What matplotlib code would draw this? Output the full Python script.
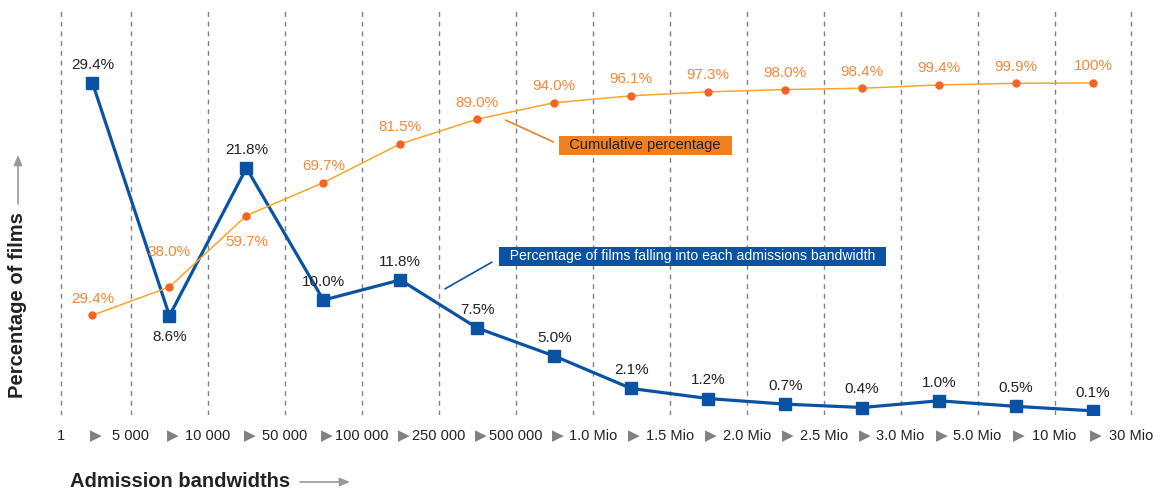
import numpy as np
import matplotlib.pyplot as plt
import matplotlib.transforms as mtransforms

# bandwidth boundaries (x tick labels) and values per bandwidth
bounds = ['1', '5 000', '10 000', '50 000', '100 000', '250 000', '500 000',
          '1.0 Mio', '1.5 Mio', '2.0 Mio', '2.5 Mio', '3.0 Mio', '5.0 Mio',
          '10 Mio', '30 Mio']
share = [29.4, 8.6, 21.8, 10.0, 11.8, 7.5, 5.0, 2.1, 1.2, 0.7, 0.4, 1.0, 0.5, 0.1]
cumul = [29.4, 38.0, 59.7, 69.7, 81.5, 89.0, 94.0, 96.1, 97.3, 98.0, 98.4, 99.4, 99.9, 100]
share_lbl = ['29.4%', '8.6%', '21.8%', '10.0%', '11.8%', '7.5%', '5.0%', '2.1%',
             '1.2%', '0.7%', '0.4%', '1.0%', '0.5%', '0.1%']
cumul_lbl = ['29.4%', '38.0%', '59.7%', '69.7%', '81.5%', '89.0%', '94.0%', '96.1%',
             '97.3%', '98.0%', '98.4%', '99.4%', '99.9%', '100%']

plt.rcParams['font.family'] = ['Liberation Sans', 'DejaVu Sans']

BLUE = '#0a52a3'
ORANGE_LINE = '#f7a626'
ORANGE_DOT = '#f26522'
ORANGE_TXT = '#f5883b'
GREY = '#808080'

fig = plt.figure(figsize=(11.6, 4.94), dpi=100)
ax = fig.add_axes([0, 79 / 494, 1, 407 / 494])
x = np.arange(len(share))

ax.set_xlim(-1.2019, 13.8706)
ax.set_ylim(-0.27, 36.1)
for s in ax.spines.values():
    s.set_visible(False)
ax.set_xticks([])
ax.set_yticks([])

# dashed separators between bandwidths
edges = np.arange(len(bounds)) - 0.5
edges[0] = -0.41
for e in edges:
    ax.axvline(e, color=GREY, lw=1, ls=(0, (3.5, 3.5)), zorder=0)

# tick labels at the separators and triangles between them
trans = mtransforms.blended_transform_factory(ax.transData, ax.transAxes)
for e, lab in zip(edges, bounds):
    ax.text(e, -21 / 407, lab, transform=trans, ha='center', va='center',
            fontsize=10.5, color='#222222')
for i in x:
    ax.text(i + 0.04, -21 / 407, '\u25b6', transform=trans, ha='center', va='center',
            fontsize=11, color=GREY, family=['DejaVu Sans'])

# share of films per bandwidth
ax.plot(x, share, color=BLUE, lw=2.3, marker='s', ms=8, zorder=4)
for i, (v, lab) in enumerate(zip(share, share_lbl)):
    dy = -15 if i == 1 else 13
    ax.annotate(lab, (i, v), xytext=(0, dy), textcoords='offset points',
                ha='center', va='center', fontsize=11, color='#222222', zorder=5)

# cumulative percentage on a second scale (0..100 matched to 0..29.4)
ax2 = ax.twinx()
ax2.set_ylim(-0.27 * 100 / 29.4, 36.1 * 100 / 29.4)
ax2.axis('off')
ax2.plot(x, cumul, color=ORANGE_LINE, lw=1.1, zorder=3)
ax2.plot(x, cumul, ls='none', marker='o', ms=5, color=ORANGE_DOT, zorder=3)
offs = {1: 25, 2: -19}
for i, (v, lab) in enumerate(zip(cumul, cumul_lbl)):
    ax2.annotate(lab, (i, v), xytext=(0, offs.get(i, 12)), textcoords='offset points',
                 ha='center', va='center', fontsize=11, color=ORANGE_TXT, zorder=5)

# callouts
ax2.annotate('  Cumulative percentage  ', xy=(5.37, 88.7), xytext=(6.09, 81.0),
             ha='left', va='center', fontsize=10.5, color='#222222',
             bbox=dict(boxstyle='square,pad=0.18', fc='#f07f22', ec='none'),
             arrowprops=dict(arrowstyle='-', color='#f07f22', lw=1.2,
                             relpos=(0, 0.5), shrinkA=4, shrinkB=0))
ax.annotate('  Percentage of films falling into each admissions bandwidth  ',
            xy=(4.58, 11.0), xytext=(5.32, 13.9),
            ha='left', va='center', fontsize=10.1, color='white',
            bbox=dict(boxstyle='square,pad=0.2', fc='#0b53a2', ec='none'),
            arrowprops=dict(arrowstyle='-', color=BLUE, lw=1.2,
                            relpos=(0, 0.5), shrinkA=6, shrinkB=0))

# axis titles with arrows
fig.text(70 / 1160, 1 - 481 / 494, 'Admission bandwidths', ha='left', va='center',
         fontsize=14.5, fontweight='bold', color='#222222')
fig.add_artist(plt.Annotation('', xy=(350 / 1160, 1 - 482 / 494),
                              xytext=(300 / 1160, 1 - 482 / 494),
                              xycoords='figure fraction',
                              arrowprops=dict(arrowstyle='-|>,head_length=0.6,head_width=0.25',
                                              color='#999999', lw=1.2, shrinkA=0, shrinkB=0)))
fig.text(18 / 1160, 1 - 305 / 494, 'Percentage of films', ha='center', va='center',
         rotation=90, fontsize=14.5, fontweight='bold', color='#222222')
fig.add_artist(plt.Annotation('', xy=(18 / 1160, 1 - 155 / 494),
                              xytext=(18 / 1160, 1 - 204 / 494),
                              xycoords='figure fraction',
                              arrowprops=dict(arrowstyle='-|>,head_length=0.6,head_width=0.25',
                                              color='#999999', lw=1.2, shrinkA=0, shrinkB=0)))

fig.savefig('out.png', dpi=100)
